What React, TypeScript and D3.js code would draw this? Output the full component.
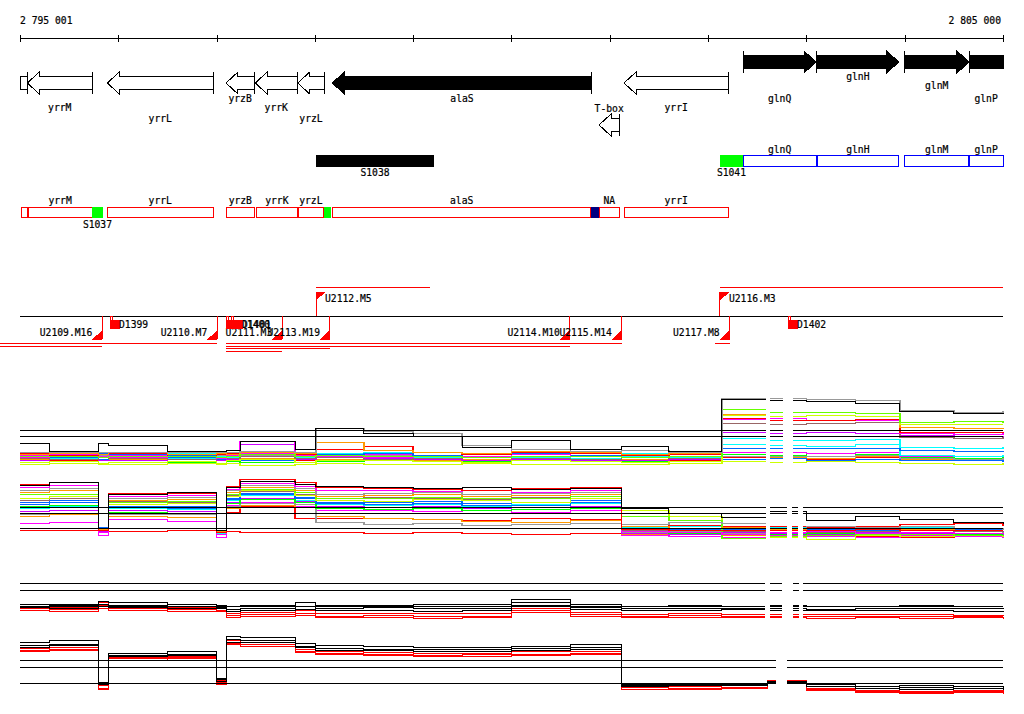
import { useEffect, useRef } from 'react'
import * as d3 from 'd3'

const W = 1024
const H = 714
const FONT = '"DejaVu Sans Mono", "Liberation Mono", monospace'
const FS = 9.7

// ─── Region & ruler ─────────────────────────────────────────────────────────
const regionStart = 2795001
const regionEnd = 2805000
const axisTicks = [2795001, 2796000, 2797000, 2798000, 2799000, 2800000, 2801000, 2802000, 2803000, 2804000, 2805000]
const axisEndLabels = ['2 795 001', '2 805 000']

// ─── Annotated genes (arrows) ───────────────────────────────────────────────
const geneNames = ['', 'yrrM', 'yrrL', 'yrzB', 'yrrK', 'yrzL', 'alaS', 'yrrI', 'glnQ', 'glnH', 'glnM', 'glnP']
const geneStarts = [2794900, 2795075, 2795889, 2797096, 2797394, 2797826, 2798178, 2801145, 2802358, 2803108, 2803996, 2804657]
const geneEnds = [2795075, 2795736, 2796967, 2797384, 2797822, 2798096, 2800816, 2802206, 2803098, 2803939, 2804654, 2805400]
const geneStrands = [-1, -1, -1, -1, -1, -1, -1, -1, 1, 1, 1, 1]
const highlightedGenes = ['alaS', 'glnQ', 'glnH', 'glnM', 'glnP']
const geneLabelLevel: Record<string, number> = {
  yrrM: 1, yrrL: 2, yrzB: 0, yrrK: 1, yrzL: 2, alaS: 0, yrrI: 1, glnQ: 0, glnH: 2, glnM: 1, glnP: 0,
}
const riboName = 'T-box'
const riboStart = 2800891
const riboEnd = 2801097

// ─── Upshift segments ───────────────────────────────────────────────────────
const segNames = ['S1038', 'S1041']
const segStarts = [2798012, 2802121]
const segEnds = [2799212, 2802355]
const segKinds = ['black', 'start']
const operonGenes = ['glnQ', 'glnH', 'glnM', 'glnP']

// ─── Transcribed regions ────────────────────────────────────────────────────
const utrNames = ['', 'yrrM', 'S1037', 'yrrL', 'yrzB', 'yrrK', 'yrzL', '', 'alaS', '', 'NA', 'yrrI']
const utrStarts = [2795008, 2795082, 2795736, 2795889, 2797096, 2797401, 2797826, 2798093, 2798178, 2800809, 2800893, 2801145]
const utrEnds = [2795079, 2795736, 2795842, 2796967, 2797388, 2797826, 2798093, 2798161, 2800809, 2800893, 2801097, 2802206]
const utrKinds = ['cds', 'cds', 'start', 'cds', 'cds', 'cds', 'cds', 'start', 'cds', 'term', 'cds', 'cds']

// ─── Transcription units ────────────────────────────────────────────────────
const tuNames = ['U2112.M5', 'U2116.M3', 'U2109.M16', 'U2110.M7', 'U2111.M3', 'U2113.M19', 'U2114.M10', 'U2115.M14', 'U2117.M8']
const tuStarts = [2798012, 2802121, 2794798, 2794798, 2797096, 2797096, 2797096, 2797096, 2802072]
const tuEnds = [2799171, 2805000, 2795838, 2797008, 2797669, 2798154, 2800595, 2801124, 2802220]
const tuStrands = [1, 1, -1, -1, -1, -1, -1, -1, -1]
const tuLanes = [0, 0, 1, 0, 3, 2, 1, 0, 0]

const delNames = ['D1399', 'D1400', 'D1401', 'D1402']
const delStarts = [2795916, 2797096, 2797147, 2802810]
const delEnds = [2796018, 2797259, 2797269, 2802915]

// ─── Expression profiles (log2 signal at probe-block starts) ─────────────────
const grid = [
  2795001, 2795300, 2795800, 2795900, 2796500, 2797000, 2797100, 2797240, 2797800, 2798010, 2798500, 2799000,
  2799500, 2800000, 2800600, 2801120, 2801600, 2802140, 2802600, 2803000, 2803500, 2803950, 2804500, 2805000,
]

const profilesA = [
  [6.8, 6.9, 6.8, 6.7, 6.9, 6.8, 6.9, 6.6, 6.8, 6.9, 6.8, 6.7, 6.9, 6.8, 6.7, 6.8, 6.9, 7.1, 7.0, 7.1, 7.0, 6.9, 6.8, 7.0],
  [7.2, 7.1, 7.3, 7.2, 7.0, 7.2, 7.1, 7.0, 7.2, 7.1, 7.3, 7.2, 7.1, 7.2, 7.3, 7.1, 7.2, 8.0, 7.9, 8.1, 8.0, 7.6, 7.5, 7.7],
  [7.3, 7.2, 7.4, 7.3, 7.1, 7.3, 7.2, 7.4, 7.3, 7.2, 7.4, 7.3, 7.2, 7.3, 7.4, 7.2, 7.3, 7.6, 7.5, 7.4, 7.6, 7.3, 7.2, 7.4],
  [7.4, 7.5, 7.3, 7.4, 7.5, 7.3, 7.4, 7.5, 7.6, 7.4, 7.5, 7.3, 7.4, 7.5, 7.3, 7.4, 7.5, 7.7, 7.6, 7.5, 7.7, 7.4, 7.3, 7.5],
  [7.5, 7.6, 7.4, 7.5, 7.6, 7.4, 7.5, 7.3, 7.5, 7.6, 7.4, 7.5, 7.6, 7.5, 7.4, 7.6, 7.5, 7.4, 7.5, 7.3, 7.4, 7.2, 7.3, 7.1],
  [7.8, 7.7, 7.9, 7.8, 7.7, 7.9, 7.8, 7.9, 7.7, 7.8, 7.9, 7.8, 7.7, 7.8, 7.9, 7.7, 7.8, 7.8, 7.7, 7.8, 7.9, 7.5, 7.4, 7.6],
  [7.9, 8.0, 7.8, 7.9, 8.0, 7.8, 7.9, 8.1, 7.9, 7.8, 8.0, 7.9, 7.8, 8.0, 7.9, 7.8, 8.0, 8.3, 8.2, 8.1, 8.3, 7.8, 7.7, 7.9],
  [8.2, 8.1, 8.3, 8.2, 8.1, 8.3, 8.2, 8.0, 8.2, 8.1, 8.3, 8.2, 8.1, 8.2, 8.3, 8.1, 8.2, 9.2, 9.1, 9.0, 9.2, 7.9, 7.8, 8.0],
  [8.0, 7.9, 8.1, 8.0, 7.9, 8.0, 8.1, 8.0, 7.9, 8.0, 8.1, 7.9, 8.0, 8.1, 7.9, 8.0, 8.1, 8.8, 8.7, 8.8, 8.7, 8.5, 8.4, 8.5],
  [7.6, 7.5, 7.7, 7.6, 7.5, 7.7, 7.6, 7.8, 7.6, 7.7, 7.5, 7.6, 7.7, 7.6, 7.5, 7.7, 7.6, 10.0, 9.8, 9.7, 9.9, 8.9, 8.8, 9.0],
  [7.3, 7.4, 7.3, 7.2, 7.4, 7.3, 7.4, 9.2, 7.4, 7.3, 7.5, 7.4, 7.3, 7.4, 7.2, 7.3, 7.4, 10.7, 10.6, 10.8, 10.6, 10.4, 10.3, 10.4],
  [7.5, 7.4, 7.6, 7.5, 7.4, 7.6, 7.5, 7.7, 7.5, 7.6, 7.4, 7.5, 7.6, 7.5, 7.4, 7.6, 7.5, 11.9, 11.8, 11.9, 12.0, 10.1, 10.0, 10.2],
  [7.6, 7.7, 7.8, 7.6, 7.7, 7.5, 7.8, 9.6, 7.9, 7.7, 7.6, 7.8, 7.7, 9.7, 7.8, 7.6, 7.7, 12.4, 12.5, 12.3, 12.2, 10.6, 10.5, 10.7],
  [8.1, 7.9, 8.0, 8.1, 7.8, 8.0, 8.1, 8.2, 8.0, 8.6, 9.0, 8.3, 8.0, 8.2, 8.1, 7.9, 8.0, 12.5, 12.3, 12.2, 12.4, 10.8, 10.7, 10.9],
  [8.0, 8.1, 8.0, 8.2, 8.0, 8.1, 8.0, 8.3, 8.1, 9.5, 8.5, 8.2, 8.1, 8.4, 8.2, 8.0, 8.1, 13.0, 12.8, 12.9, 12.8, 11.4, 11.3, 11.4],
  [7.0, 7.1, 6.9, 7.0, 7.1, 6.9, 7.2, 7.4, 7.0, 7.3, 7.2, 7.1, 7.0, 7.2, 7.1, 7.0, 7.1, 12.9, 12.8, 12.9, 12.8, 11.8, 11.7, 11.8],
  [7.7, 7.8, 7.6, 7.7, 7.8, 7.6, 7.7, 8.0, 7.8, 7.9, 7.7, 7.8, 7.6, 7.7, 7.8, 7.6, 7.8, 13.6, 13.3, 13.2, 13.1, 12.0, 12.1, 12.0],
  [8.2, 8.3, 8.2, 8.2, 8.3, 8.2, 8.3, 8.4, 8.3, 11.3, 10.9, 10.6, 9.1, 8.6, 8.4, 8.5, 8.3, 15.0, 15.0, 14.9, 14.8, 13.5, 13.3, 13.5],
  [9.4, 8.4, 9.4, 9.1, 8.4, 8.4, 8.5, 9.6, 8.6, 11.25, 10.6, 10.25, 8.9, 9.75, 8.6, 9.0, 8.4, 14.9, 14.75, 14.6, 14.4, 13.4, 13.1, 13.25],
]
const colorsA = [
  '#ccff00', '#00ff00', '#ff0000', '#ff9900', '#0066ff', '#999999', '#ff00ff', '#00ffff', '#0066ff', '#00ffff',
  '#cc00ff', '#996666', '#ff00ff', '#ff0000', '#ff9900', '#ccff00', '#66ff00', '#999999', '#000000',
]

const profilesB = [
  [7.3, 7.2, 7.0, 7.1, 7.2, 6.8, 7.1, 7.0, 7.0, 7.0, 6.9, 7.0, 6.9, 6.8, 6.9, 6.6, 6.5, 6.6, 6.5, 6.6, 6.5, 6.4, 6.5, 6.4],
  [7.2, 7.3, 7.2, 7.1, 7.3, 6.7, 9.5, 10.2, 8.8, 8.7, 8.8, 8.6, 8.5, 8.7, 8.6, 7.8, 7.9, 7.7, 7.8, 7.6, 7.7, 8.0, 8.1, 7.9],
  [8.1, 8.3, 6.6, 8.6, 8.4, 6.4, 10.4, 10.8, 10.3, 9.7, 9.8, 9.6, 9.7, 9.5, 9.8, 6.6, 6.5, 6.4, 6.6, 6.5, 6.4, 6.6, 6.5, 6.4],
  [9.0, 9.2, 7.4, 9.0, 8.9, 7.1, 10.0, 10.4, 10.1, 9.0, 8.8, 8.6, 8.4, 8.3, 8.5, 6.8, 6.7, 6.6, 6.7, 6.8, 6.6, 6.7, 6.8, 6.7],
  [9.3, 9.4, 7.3, 9.3, 9.2, 7.1, 10.2, 10.6, 10.5, 8.2, 8.0, 8.1, 7.9, 8.0, 8.1, 7.0, 7.1, 6.9, 7.0, 7.1, 6.9, 7.0, 7.1, 6.9],
  [9.6, 9.8, 7.1, 9.7, 9.6, 7.0, 10.8, 11.3, 10.9, 10.2, 10.1, 10.3, 10.0, 10.1, 10.2, 6.9, 6.8, 7.0, 6.9, 6.8, 7.0, 6.9, 6.8, 6.9],
  [10.0, 10.2, 7.0, 10.0, 9.9, 6.9, 11.0, 11.6, 11.0, 10.5, 10.4, 10.5, 10.3, 10.5, 10.6, 7.6, 7.7, 7.5, 7.6, 7.4, 7.5, 7.6, 7.5, 7.4],
  [10.2, 10.4, 7.2, 9.5, 9.4, 7.0, 10.6, 11.1, 10.7, 10.0, 9.9, 10.0, 9.8, 9.9, 10.0, 7.1, 6.9, 6.7, 6.8, 6.9, 6.6, 6.8, 6.7, 6.8],
  [10.5, 10.7, 7.6, 10.3, 10.2, 7.2, 11.2, 11.9, 11.4, 10.8, 10.7, 10.9, 10.6, 10.7, 11.0, 7.3, 7.2, 7.4, 7.3, 7.2, 7.3, 7.4, 7.2, 7.3],
  [10.8, 11.0, 7.3, 10.1, 10.0, 7.1, 11.1, 11.7, 11.2, 10.6, 10.5, 10.6, 10.4, 10.4, 10.7, 7.5, 7.4, 7.3, 7.5, 7.4, 7.5, 7.3, 7.4, 7.5],
  [11.0, 11.2, 7.4, 10.9, 10.8, 7.3, 11.6, 12.1, 11.8, 11.2, 11.4, 11.3, 11.1, 11.4, 11.3, 7.2, 7.0, 7.1, 7.2, 7.0, 7.1, 7.2, 7.1, 7.2],
  [11.3, 11.5, 7.2, 10.5, 10.6, 7.0, 11.5, 12.2, 11.6, 11.0, 10.9, 11.1, 11.0, 10.8, 11.2, 9.8, 9.0, 6.2, 6.4, 6.1, 6.6, 6.5, 6.6, 6.5],
  [11.7, 11.8, 7.5, 10.8, 10.9, 7.3, 11.8, 12.4, 12.0, 11.3, 11.2, 11.4, 11.3, 11.2, 11.5, 9.0, 8.5, 6.3, 6.5, 6.6, 6.8, 6.7, 6.6, 6.8],
  [12.0, 12.2, 7.4, 11.0, 11.1, 7.1, 12.0, 12.6, 12.3, 11.5, 11.6, 11.7, 11.5, 11.6, 11.8, 7.7, 7.5, 7.6, 7.4, 7.5, 7.6, 7.4, 7.5, 7.6],
  [12.3, 12.5, 7.3, 11.3, 11.4, 7.0, 12.2, 12.9, 12.5, 11.8, 11.9, 12.0, 11.8, 11.9, 12.0, 8.0, 8.3, 8.1, 7.5, 7.8, 7.6, 7.7, 7.5, 7.4],
  [12.6, 12.9, 7.0, 11.5, 11.6, 6.7, 12.4, 13.1, 12.8, 12.2, 12.3, 12.1, 12.2, 12.0, 12.3, 7.1, 7.0, 6.8, 7.0, 7.1, 6.9, 7.0, 6.9, 7.0],
  [13.0, 13.3, 7.3, 11.9, 11.9, 7.0, 12.8, 13.6, 13.2, 12.6, 12.5, 12.4, 12.3, 12.5, 12.6, 7.4, 7.2, 7.3, 7.2, 7.3, 7.4, 7.2, 7.3, 7.2],
  [12.9, 13.2, 7.5, 11.8, 12.0, 7.2, 12.6, 13.4, 13.0, 12.7, 12.6, 12.5, 12.6, 12.4, 12.5, 10.0, 9.4, 8.9, 9.6, 8.5, 9.0, 8.6, 8.2, 8.1],
]
const colorsB = [
  '#ff0000', '#ff0000', '#ff00ff', '#ff9900', '#999999', '#cc00ff', '#00ffff', '#00ff00', '#0066ff', '#0066ff',
  '#996666', '#ccff00', '#66ff00', '#ff9900', '#999999', '#ff00ff', '#ff0000', '#000000',
]

const profilesC = [
  [8.3, 8.2, 8.6, 8.3, 8.1, 8.2, 7.2, 7.3, 7.5, 7.1, 7.2, 7.0, 7.1, 8.0, 7.3, 7.1, 7.2, 7.1, 7.2, 7.0, 7.1, 7.0, 7.1, 7.0],
  [8.6, 8.5, 9.1, 8.7, 8.5, 8.4, 7.5, 7.6, 7.9, 7.4, 7.5, 7.3, 7.4, 8.3, 7.6, 7.4, 7.5, 7.3, 7.4, 7.3, 7.4, 7.3, 7.4, 7.3],
  [8.9, 8.9, 9.6, 9.2, 8.9, 8.8, 7.9, 8.0, 8.3, 7.8, 7.9, 7.8, 7.9, 8.7, 8.0, 7.7, 7.8, 7.6, 7.7, 7.6, 7.7, 7.6, 7.5, 7.7],
  [8.8, 8.7, 9.0, 8.9, 8.6, 8.7, 8.2, 8.3, 8.5, 8.3, 8.4, 8.2, 8.3, 9.2, 8.5, 8.3, 8.4, 8.5, 8.4, 8.3, 8.4, 8.3, 8.2, 8.4],
  [9.0, 9.1, 9.3, 9.2, 9.0, 8.9, 8.5, 8.6, 9.0, 8.6, 8.8, 8.7, 8.6, 9.6, 8.8, 8.6, 8.7, 8.6, 8.7, 8.5, 8.6, 8.7, 8.6, 8.8],
  [9.3, 9.4, 9.8, 9.6, 9.3, 9.2, 9.0, 9.1, 9.7, 9.1, 9.2, 9.3, 9.3, 10.2, 9.4, 9.0, 9.1, 9.0, 9.1, 9.0, 9.0, 9.1, 9.0, 9.0],
]
const colorsC = ['#ff0000', '#ff0000', '#ff0000', '#000000', '#000000', '#000000']

const profilesD = [
  [11.8, 12.0, 6.4, 10.6, 10.8, 7.2, 12.8, 12.6, 11.7, 11.4, 11.3, 11.1, 11.2, 11.3, 11.4, 6.5, 6.5, 6.6, 7.3, 6.3, 6.0, 5.9, 6.0, 5.8],
  [12.0, 12.2, 6.6, 10.8, 11.0, 7.4, 13.0, 12.9, 11.9, 11.6, 11.5, 11.3, 11.4, 11.5, 11.6, 6.7, 6.6, 6.7, 7.5, 6.4, 6.1, 6.0, 6.1, 5.9],
  [12.3, 12.5, 7.0, 11.0, 11.2, 7.7, 13.4, 13.2, 12.2, 11.8, 11.7, 11.6, 11.6, 11.8, 11.9, 6.9, 6.8, 7.0, 7.7, 6.6, 6.3, 6.2, 6.3, 6.1],
  [12.5, 12.7, 7.1, 11.1, 11.3, 7.6, 13.2, 13.1, 12.4, 12.0, 12.0, 11.9, 11.8, 12.0, 12.1, 6.9, 7.0, 7.0, 7.3, 6.8, 6.6, 6.5, 6.6, 6.5],
  [12.7, 12.9, 7.3, 11.3, 11.5, 7.8, 13.6, 13.5, 12.6, 12.3, 12.2, 12.1, 12.1, 12.3, 12.4, 7.0, 7.1, 7.1, 7.4, 6.9, 6.8, 6.7, 6.8, 6.7],
  [13.2, 13.4, 7.5, 11.6, 11.9, 8.0, 14.0, 13.9, 13.0, 12.7, 12.6, 12.4, 12.5, 12.6, 12.8, 7.2, 7.3, 7.3, 7.6, 7.1, 6.9, 7.0, 6.9, 7.0],
]
const colorsD = ['#ff0000', '#ff0000', '#ff0000', '#000000', '#000000', '#000000']

const refLinesA = [11.0, 10.25]
const refLinesB = [10.1, 9.35, 7.45]
const refLinesC = [12.8, 11.6, 8.95]
const refLinesD = [10.57, 9.53, 7.24]

// probe-free stretches
const gapsA = [[2802585, 2802625], [2802765, 2802865]]
const gapsB = [[2802585, 2802625], [2802805, 2802850], [2802910, 2802965]]
const gapsC = [[2802580, 2802625], [2802755, 2802860], [2802930, 2802965]]
const gapsD = [[2802690, 2802805]]

// ─── Component ───────────────────────────────────────────────────────────────

export default function App() {
  const ref = useRef<SVGSVGElement>(null)

  useEffect(() => {
    if (!ref.current) return
    const svg = d3.select(ref.current)
    svg.selectAll('*').remove()
    draw(svg)
  }, [])

  return (
    <svg
      ref={ref}
      width={W}
      height={H}
      viewBox={`0 0 ${W} ${H}`}
      style={{ position: 'absolute', left: 0, top: 0, display: 'block', background: '#fff' }}
    />
  )
}

function draw(svg: any) {
  const x = d3.scaleLinear().domain([regionStart, regionEnd]).range([20, 1003])
  const X0 = x(regionStart)
  const X1 = x(regionEnd)

  svg.attr('shape-rendering', 'crispEdges')
  svg.append('rect').attr('width', W).attr('height', H).attr('fill', '#fff')

  const text = (t: string, tx: number, cy: number, anchor = 'middle') =>
    svg.append('text')
      .attr('x', tx)
      .attr('y', cy + 3.5)
      .attr('text-anchor', anchor)
      .attr('font-family', FONT)
      .attr('font-size', FS)
      .attr('fill', '#000')
      .attr('stroke', '#000')
      .attr('stroke-width', 0.2)
      .text(t)

  // ruler
  text(axisEndLabels[0], X0, 20, 'start')
  text(axisEndLabels[1], X1 - 2, 20, 'end')
  svg.append('line').attr('x1', X0).attr('x2', X1).attr('y1', 38.5).attr('y2', 38.5).attr('stroke', '#000')
  axisTicks.forEach((t) => {
    const tx = Math.round(x(t)) + 0.5
    svg.append('line').attr('x1', tx).attr('x2', tx).attr('y1', 35).attr('y2', 42).attr('stroke', '#000')
  })

  // genes
  const arrow = (x1: number, x2: number, cy: number, strand: number, headL: boolean, headR: boolean, filled: boolean) => {
    const body = 6.5
    const head = 11
    const h = Math.min(12, x2 - x1)
    let pts: number[][]
    if (strand < 0 && headL) {
      pts = [[x1, cy], [x1 + h, cy - head], [x1 + h, cy - body], [x2, cy - body], [x2, cy + body], [x1 + h, cy + body], [x1 + h, cy + head]]
    } else if (strand > 0 && headR) {
      pts = [[x2, cy], [x2 - h, cy - head], [x2 - h, cy - body], [x1, cy - body], [x1, cy + body], [x2 - h, cy + body], [x2 - h, cy + head]]
    } else {
      pts = [[x1, cy - body], [x2, cy - body], [x2, cy + body], [x1, cy + body]]
    }
    svg.append('polygon')
      .attr('points', pts.map((p) => p.join(',')).join(' '))
      .attr('fill', filled ? '#000' : '#fff')
      .attr('stroke', '#000')
      .attr('stroke-width', 1)
    const tail = strand < 0 ? x2 : x1
    svg.append('line').attr('x1', tail).attr('x2', tail).attr('y1', cy - head).attr('y2', cy + head).attr('stroke', '#000')
  }

  const REV_LABEL_Y = [98, 107, 118]
  const FWD_LABEL_Y = [98, 85, 76]
  geneNames.forEach((name, i) => {
    const s = geneStarts[i]
    const e = geneEnds[i]
    const x1 = x(Math.max(s, regionStart))
    const x2 = x(Math.min(e, regionEnd))
    const strand = geneStrands[i]
    const cy = strand < 0 ? 83 : 62
    arrow(x1, x2, cy, strand, s >= regionStart, e <= regionEnd, highlightedGenes.includes(name))
    if (name) {
      const ly = strand < 0 ? REV_LABEL_Y[geneLabelLevel[name]] : FWD_LABEL_Y[geneLabelLevel[name]]
      text(name, (x1 + x2) / 2, ly)
    }
  })
  arrow(x(riboStart), x(riboEnd), 125, -1, true, true, false)
  text(riboName, (x(riboStart) + x(riboEnd)) / 2, 108)

  // upshift segments and operon boxes
  segNames.forEach((name, i) => {
    const x1 = x(segStarts[i])
    const x2 = x(segEnds[i])
    svg.append('rect')
      .attr('x', x1).attr('y', 155).attr('width', x2 - x1).attr('height', 11.5)
      .attr('fill', segKinds[i] === 'black' ? '#000' : '#00ff00')
    text(name, (x1 + x2) / 2, 172)
  })
  operonGenes.forEach((name) => {
    const i = geneNames.indexOf(name)
    const x1 = x(geneStarts[i])
    const x2 = x(Math.min(geneEnds[i], regionEnd))
    svg.append('rect')
      .attr('x', x1 + 0.5).attr('y', 155.5).attr('width', x2 - x1 - 0.5).attr('height', 10.5)
      .attr('fill', 'none').attr('stroke', '#0000ff')
    text(name, (x1 + x2) / 2, 149)
  })

  // transcribed regions
  utrNames.forEach((name, i) => {
    const x1 = x(utrStarts[i])
    const x2 = x(utrEnds[i])
    const kind = utrKinds[i]
    if (kind === 'cds') {
      svg.append('rect')
        .attr('x', x1 + 0.5).attr('y', 207.5).attr('width', x2 - x1 - 0.5).attr('height', 10)
        .attr('fill', '#fff').attr('stroke', '#ff0000')
      if (name) text(name, (x1 + x2) / 2, 200)
    } else {
      svg.append('rect')
        .attr('x', x1).attr('y', 207).attr('width', x2 - x1).attr('height', 11)
        .attr('fill', kind === 'start' ? '#00ff00' : '#000080')
      if (name) text(name, (x1 + x2) / 2, 224)
    }
  })

  // transcription units
  svg.append('line').attr('x1', X0).attr('x2', X1).attr('y1', 316).attr('y2', 316).attr('stroke', '#000')
  const REV_LANE_Y = [343, 346, 348.5, 351]
  tuNames.forEach((name, i) => {
    const xs = x(tuStarts[i])
    const xe = x(tuEnds[i])
    if (tuStrands[i] > 0) {
      svg.append('line').attr('x1', xs).attr('x2', xe).attr('y1', 287).attr('y2', 287).attr('stroke', '#ff0000')
      svg.append('line').attr('x1', xs).attr('x2', xs).attr('y1', 292).attr('y2', 316).attr('stroke', '#ff0000')
      svg.append('polygon').attr('points', `${xs},292 ${xs + 10},292 ${xs},300`).attr('fill', '#ff0000')
      text(name, xs + 9, 298, 'start')
    } else {
      const ly = REV_LANE_Y[tuLanes[i]]
      svg.append('line').attr('x1', xs).attr('x2', xe).attr('y1', ly).attr('y2', ly).attr('stroke', '#ff0000')
      svg.append('line').attr('x1', xe).attr('x2', xe).attr('y1', 316).attr('y2', 339).attr('stroke', '#ff0000')
      svg.append('polygon').attr('points', `${xe},330 ${xe},339.5 ${xe - 10},339.5`).attr('fill', '#ff0000')
      text(name, xe - 10, 332, 'end')
    }
  })
  delNames.forEach((name, i) => {
    const x1 = x(delStarts[i])
    const x2 = x(delEnds[i])
    svg.append('rect').attr('x', x1).attr('y', 320).attr('width', x2 - x1).attr('height', 9).attr('fill', '#ff0000')
    svg.append('rect').attr('x', x1 + 0.5).attr('y', 316).attr('width', 2).attr('height', 4)
      .attr('fill', '#fff').attr('stroke', '#ff0000')
    text(name, x2 - 1, 324, 'start')
  })

  // expression panels
  const panels = [
    { y: d3.scaleLinear().domain([6, 15]).range([470, 398]), series: profilesA, colors: colorsA, refs: refLinesA, gaps: gapsA, top: 390, bottom: 472, width: 1.6 },
    { y: d3.scaleLinear().domain([6, 14]).range([540, 476]), series: profilesB, colors: colorsB, refs: refLinesB, gaps: gapsB, top: 474, bottom: 544, width: 1.6 },
    { y: d3.scaleLinear().domain([6, 14]).range([624, 576]), series: profilesC, colors: colorsC, refs: refLinesC, gaps: gapsC, top: 576, bottom: 626, width: 1 },
    { y: d3.scaleLinear().domain([6, 14]).range([692, 636]), series: profilesD, colors: colorsD, refs: refLinesD, gaps: gapsD, top: 632, bottom: 698, width: 1 },
  ]

  panels.forEach((p) => {
    const g = svg.append('g')
    const line = d3.line<number>()
      .x((_, i) => x(grid[i]))
      .y((d) => Math.round(p.y(d)) + 0.5)
      .curve(d3.curveStepAfter)
    p.series.forEach((s, i) => {
      const c = p.colors[i]
      g.append('path')
        .attr('d', line(s))
        .attr('fill', 'none')
        .attr('stroke', c)
        .attr('stroke-width', c === '#000000' ? 1 : p.width)
    })
    p.refs.forEach((v) => {
      const ry = Math.round(p.y(v)) + 0.5
      g.append('line').attr('x1', X0).attr('x2', X1).attr('y1', ry).attr('y2', ry).attr('stroke', '#000')
    })
    p.gaps.forEach(([a, b]) => {
      g.append('rect')
        .attr('x', x(a)).attr('y', p.top)
        .attr('width', x(b) - x(a)).attr('height', p.bottom - p.top)
        .attr('fill', '#fff')
    })
  })
}
